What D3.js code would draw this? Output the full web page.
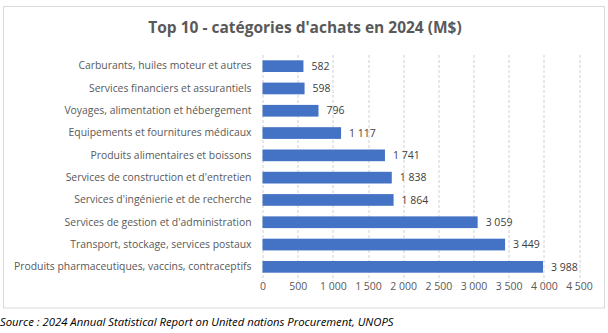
<!DOCTYPE html>
<html>
<head>
<meta charset="utf-8">
<script src="https://cdn.jsdelivr.net/npm/d3@7"></script>
<style>
  body { margin: 0; background: #fff; }
  text { font-family: "Open Sans", "Noto Sans", sans-serif; }
</style>
</head>
<body>
<svg id="chart" width="608" height="333"></svg>
<script>
const categories = [
    'Carburants, huiles moteur et autres',
    'Services financiers et assurantiels',
    'Voyages, alimentation et hébergement',
    'Equipements et fournitures médicaux',
    'Produits alimentaires et boissons',
    'Services de construction et d\'entretien',
    'Services d\'ingénierie et de recherche',
    'Services de gestion et d\'administration',
    'Transport, stockage, services postaux',
    'Produits pharmaceutiques, vaccins, contraceptifs'
];
const amounts = [582, 598, 796, 1117, 1741, 1838, 1864, 3059, 3449, 3988];
const xTicks = [0, 500, 1000, 1500, 2000, 2500, 3000, 3500, 4000, 4500];
const title = 'Top 10 - catégories d\'achats en 2024 (M$)';
const source = 'Source : 2024 Annual Statistical Report on United nations Procurement, UNOPS';

(function () {
    let svg = d3.select('#chart'),
        margin = {top: 55, right: 29, bottom: 55, left: 262.5},
        width = 608 - margin.left - margin.right,
        height = 278 - margin.top
    ;
    let fr = d3.formatLocale({decimal: ',', thousands: '\u00a0', grouping: [3], currency: ['', '']}).format(',d');

    // outer frame
    svg.append('rect')
        .attr('x', 3.5).attr('y', 6.5)
        .attr('width', 601).attr('height', 301.5)
        .attr('fill', '#fff')
        .attr('stroke', '#d9d9d9');

    svg.append('text')
        .attr('x', 305).attr('y', 28)
        .attr('text-anchor', 'middle')
        .attr('dy', '0.35em')
        .style('font-size', '15.5px')
        .style('font-weight', 'bold')
        .attr('fill', '#595959')
        .text(title);

    let g = svg.append('g').attr('transform', `translate(${margin.left},${margin.top})`);

    let x = d3.scaleLinear().domain([0, 4500]).range([0, width]),
        y = d3.scaleBand().domain(categories).range([0, height]).paddingInner(0.475).paddingOuter(0.2375)
    ;

    // dashed vertical gridlines
    g.append('g')
        .selectAll('line')
        .data(xTicks)
        .enter().append('line')
        .attr('x1', d => Math.round(x(d)) + 0.5)
        .attr('x2', d => Math.round(x(d)) + 0.5)
        .attr('y1', 0)
        .attr('y2', height + 3)
        .attr('stroke', '#d0d0d0')
        .attr('stroke-dasharray', '3,2');

    g.append('g')
        .attr('transform', `translate(0,${height})`)
        .call(d3.axisBottom(x).tickValues(xTicks).tickSize(0).tickPadding(8).tickFormat(fr))
        .call(a => a.select('.domain').remove())
        .selectAll('text')
        .attr('dy', '0.35em')
        .style('font-size', '10.5px')
        .style('font-family', '"Open Sans", sans-serif')
        .attr('fill', '#595959');

    g.append('g')
        .call(d3.axisLeft(y).tickSize(0).tickPadding(11))
        .call(a => a.select('.domain').remove())
        .selectAll('text')
        .style('font-size', '10.4px')
        .style('font-family', '"Open Sans", sans-serif')
        .attr('fill', '#595959');

    let rows = categories.map((c, i) => ({name: c, value: amounts[i]}));

    g.selectAll('.bar')
        .data(rows)
        .enter().append('rect')
        .attr('class', 'bar')
        .attr('x', 0)
        .attr('y', d => y(d.name))
        .attr('width', d => x(d.value))
        .attr('height', y.bandwidth())
        .attr('fill', '#4472c4');

    g.selectAll('.val')
        .data(rows)
        .enter().append('text')
        .attr('class', 'val')
        .attr('x', d => x(d.value) + 8)
        .attr('y', d => y(d.name) + y.bandwidth() / 2)
        .attr('dy', '0.35em')
        .style('font-size', '10.5px')
        .attr('fill', '#404040')
        .text(d => fr(d.value));

    svg.append('text')
        .attr('x', 0).attr('y', 322)
        .attr('dy', '0.35em')
        .style('font-size', '11.3px')
        .style('font-style', 'italic')
        .attr('fill', '#000')
        .text(source);
}());
</script>
</body>
</html>
